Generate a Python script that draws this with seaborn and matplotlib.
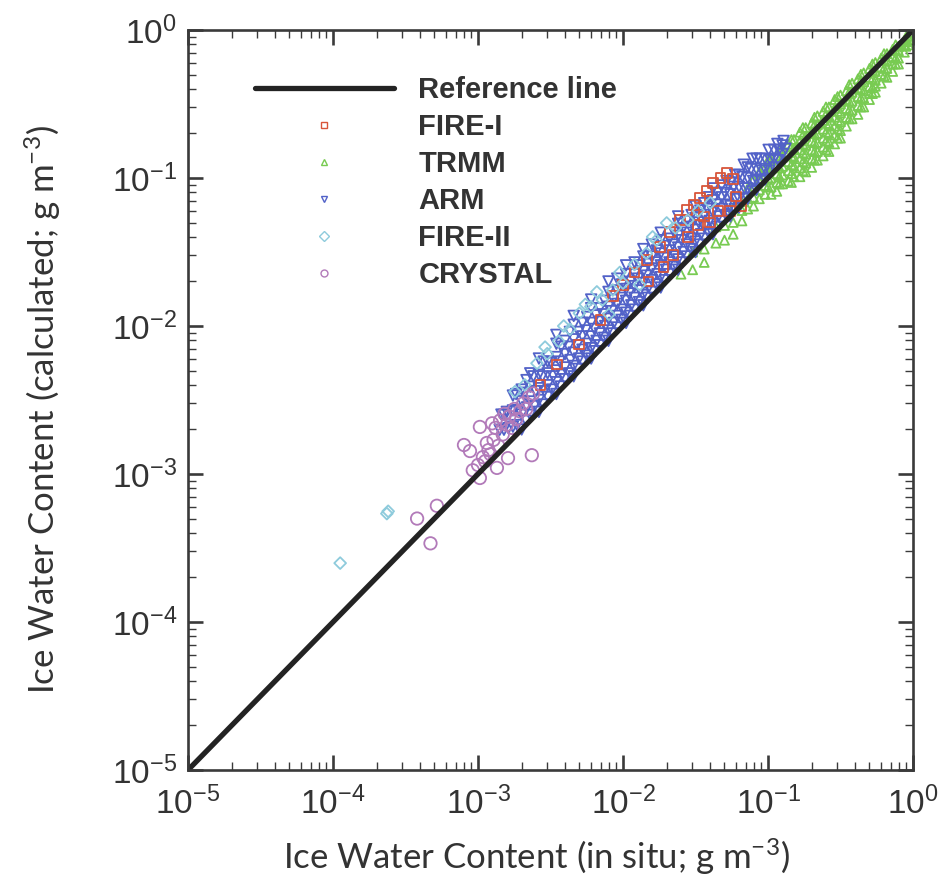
import numpy as np
import pandas as pd
import matplotlib
matplotlib.use("Agg")
import matplotlib.pyplot as plt
from matplotlib.lines import Line2D
from matplotlib.ticker import FixedLocator, NullLocator, LogFormatterSciNotation
import seaborn as sns

# ==========================================
# data (g m^-3)
# ==========================================
REF_LINE = [1e-5, 1e0]
DECADES = [1e-5, 1e-4, 1e-3, 1e-2, 1e-1, 1e0]
DECADE_SUBS = [2, 3, 4, 5, 6, 7, 8, 9]

FIRE1_X = [0.052, 0.047, 0.042, 0.038, 0.034, 0.031, 0.0276, 0.0247, 0.021, 0.018,
           0.0147, 0.012, 0.010, 0.0085, 0.057, 0.045, 0.040, 0.033, 0.028, 0.022,
           0.036, 0.019, 0.015, 0.060, 0.007, 0.005, 0.0035, 0.0027, 0.065, 0.055]
FIRE1_Y = [0.108, 0.100, 0.092, 0.082, 0.073, 0.066, 0.061, 0.052, 0.043, 0.034,
           0.028, 0.023, 0.019, 0.016, 0.098, 0.060, 0.050, 0.048, 0.040, 0.030,
           0.055, 0.025, 0.020, 0.075, 0.011, 0.0075, 0.0055, 0.004, 0.065, 0.060]

TRMM_X = [0.0251, 0.0302, 0.0302, 0.0363, 0.0363, 0.0437, 0.0437, 0.0501, 0.0501,
          0.0575, 0.0575, 0.0575, 0.0661, 0.0661, 0.0661, 0.0724, 0.0724, 0.0724,
          0.0794, 0.0794, 0.0794, 0.0794, 0.0871, 0.0871, 0.0871, 0.0871,
          0.0955, 0.0955, 0.0955, 0.0955, 0.105, 0.105, 0.105, 0.105, 0.105,
          0.115, 0.115, 0.115, 0.115, 0.115, 0.126, 0.126, 0.126, 0.126, 0.126,
          0.138, 0.138, 0.138, 0.138, 0.138, 0.151, 0.151, 0.151, 0.151, 0.151,
          0.166, 0.166, 0.166, 0.166, 0.166, 0.166, 0.182, 0.182, 0.182, 0.182, 0.182, 0.182,
          0.200, 0.200, 0.200, 0.200, 0.200, 0.200, 0.219, 0.219, 0.219, 0.219, 0.219, 0.219,
          0.240, 0.240, 0.240, 0.240, 0.240, 0.240, 0.263, 0.263, 0.263, 0.263, 0.263, 0.263,
          0.288, 0.288, 0.288, 0.288, 0.288, 0.288, 0.316, 0.316, 0.316, 0.316, 0.316, 0.316,
          0.347, 0.347, 0.347, 0.347, 0.347, 0.380, 0.380, 0.380, 0.380, 0.380,
          0.417, 0.417, 0.417, 0.417, 0.417, 0.457, 0.457, 0.457, 0.457, 0.457,
          0.501, 0.501, 0.501, 0.501, 0.501, 0.550, 0.550, 0.550, 0.550, 0.550,
          0.603, 0.603, 0.603, 0.603, 0.661, 0.661, 0.661, 0.661, 0.724, 0.724, 0.724, 0.724,
          0.794, 0.794, 0.794, 0.794, 0.871, 0.871, 0.871, 0.933, 0.933, 0.933,
          0.100, 0.100, 0.100, 0.100, 0.120, 0.120, 0.120, 0.120, 0.120,
          0.145, 0.145, 0.145, 0.145, 0.145, 0.145, 0.174, 0.174, 0.174, 0.174, 0.174, 0.174,
          0.209, 0.209, 0.209, 0.209, 0.209, 0.209, 0.251, 0.251, 0.251, 0.251, 0.251, 0.251,
          0.302, 0.302, 0.302, 0.302, 0.302, 0.302, 0.363, 0.363, 0.363, 0.363, 0.363,
          0.437, 0.437, 0.437, 0.437, 0.437, 0.525, 0.525, 0.525, 0.525, 0.525,
          0.631, 0.631, 0.631, 0.631, 0.759, 0.759, 0.759, 0.759, 0.891, 0.891, 0.891]
TRMM_Y = [0.0224, 0.0316, 0.0240, 0.0331, 0.0269, 0.0468, 0.0363, 0.0478, 0.0380,
          0.0631, 0.0501, 0.0417, 0.0692, 0.0603, 0.0513, 0.0851, 0.0724, 0.0617,
          0.0977, 0.0851, 0.0741, 0.0646, 0.110, 0.0955, 0.0832, 0.0724,
          0.118, 0.105, 0.0891, 0.0776, 0.132, 0.115, 0.100, 0.0871, 0.0776,
          0.141, 0.123, 0.107, 0.0933, 0.0813, 0.158, 0.138, 0.120, 0.105, 0.0912,
          0.170, 0.148, 0.129, 0.112, 0.0955, 0.182, 0.158, 0.138, 0.120, 0.102,
          0.204, 0.178, 0.155, 0.135, 0.117, 0.102, 0.219, 0.191, 0.166, 0.145, 0.126, 0.110,
          0.235, 0.205, 0.178, 0.155, 0.135, 0.118, 0.263, 0.229, 0.200, 0.174, 0.151, 0.132,
          0.282, 0.245, 0.214, 0.186, 0.162, 0.141, 0.302, 0.263, 0.229, 0.200, 0.174, 0.151,
          0.339, 0.295, 0.257, 0.224, 0.195, 0.170, 0.363, 0.316, 0.275, 0.240, 0.209, 0.186,
          0.389, 0.339, 0.295, 0.257, 0.224, 0.437, 0.380, 0.331, 0.288, 0.251,
          0.468, 0.407, 0.355, 0.309, 0.269, 0.513, 0.447, 0.389, 0.347, 0.302,
          0.550, 0.479, 0.417, 0.372, 0.339, 0.603, 0.525, 0.457, 0.417, 0.380,
          0.646, 0.563, 0.501, 0.437, 0.692, 0.617, 0.550, 0.479, 0.741, 0.661, 0.589, 0.525,
          0.776, 0.724, 0.646, 0.589, 0.851, 0.794, 0.708, 0.912, 0.871, 0.794,
          0.132, 0.115, 0.100, 0.0871, 0.155, 0.135, 0.117, 0.102, 0.0912,
          0.182, 0.162, 0.141, 0.123, 0.107, 0.0933, 0.219, 0.195, 0.170, 0.148, 0.129, 0.112,
          0.257, 0.229, 0.200, 0.174, 0.151, 0.132, 0.302, 0.269, 0.234, 0.204, 0.178, 0.155,
          0.355, 0.324, 0.282, 0.245, 0.214, 0.186, 0.427, 0.380, 0.331, 0.288, 0.251,
          0.502, 0.457, 0.398, 0.347, 0.302, 0.589, 0.537, 0.468, 0.407, 0.372,
          0.692, 0.631, 0.550, 0.490, 0.794, 0.724, 0.646, 0.589, 0.891, 0.832, 0.776]

ARM_X = [0.00141, 0.00145, 0.00162, 0.00158, 0.00186, 0.00190, 0.00183,
         0.00214, 0.00218, 0.00210, 0.00216, 0.00245, 0.00250, 0.00241,
         0.00282, 0.00287, 0.00278, 0.00284, 0.00324, 0.00330, 0.00319,
         0.00372, 0.00378, 0.00366, 0.00375, 0.00427, 0.00434, 0.00420, 0.00430,
         0.00490, 0.00498, 0.00482, 0.00494, 0.00562, 0.00572, 0.00553, 0.00566,
         0.00646, 0.00657, 0.00635, 0.00651, 0.00741, 0.00754, 0.00729, 0.00747,
         0.00851, 0.00866, 0.00837, 0.00857, 0.00977, 0.00994, 0.00961, 0.00984,
         0.0112, 0.0114, 0.0110, 0.0113, 0.0129, 0.0131, 0.0127, 0.0130,
         0.0148, 0.0150, 0.0145, 0.0149, 0.0170, 0.0173, 0.0167, 0.0171,
         0.0195, 0.0198, 0.0192, 0.0196, 0.0224, 0.0228, 0.0220, 0.0226,
         0.0257, 0.0261, 0.0253, 0.0259, 0.0295, 0.0300, 0.0290, 0.0297,
         0.0339, 0.0345, 0.0333, 0.0341, 0.0389, 0.0396, 0.0383, 0.0392,
         0.0447, 0.0455, 0.0440, 0.0450, 0.0513, 0.0522, 0.0505, 0.0517,
         0.0589, 0.0599, 0.0580, 0.0593, 0.0676, 0.0688, 0.0665, 0.0681,
         0.0776, 0.0790, 0.0764, 0.0782, 0.0891, 0.0907, 0.0877,
         0.102, 0.104, 0.101, 0.117, 0.119, 0.116, 0.132, 0.128,
         0.00151, 0.00151, 0.00174, 0.00174, 0.00174,
         0.00200, 0.00200, 0.00200, 0.00200, 0.00229, 0.00229, 0.00229, 0.00229,
         0.00263, 0.00263, 0.00263, 0.00263, 0.00302, 0.00302, 0.00302, 0.00302,
         0.00347, 0.00347, 0.00347, 0.00347, 0.00347, 0.00398, 0.00398, 0.00398, 0.00398,
         0.00457, 0.00457, 0.00457, 0.00457, 0.00457, 0.00525, 0.00525, 0.00525, 0.00525,
         0.00603, 0.00603, 0.00603, 0.00603, 0.00603, 0.00692, 0.00692, 0.00692, 0.00692,
         0.00794, 0.00794, 0.00794, 0.00794, 0.00794, 0.00912, 0.00912, 0.00912, 0.00912, 0.00912,
         0.0105, 0.0105, 0.0105, 0.0105, 0.0105, 0.0120, 0.0120, 0.0120, 0.0120, 0.0120,
         0.0138, 0.0138, 0.0138, 0.0138, 0.0138, 0.0158, 0.0158, 0.0158, 0.0158, 0.0158,
         0.0182, 0.0182, 0.0182, 0.0182, 0.0182, 0.0209, 0.0209, 0.0209, 0.0209,
         0.0240, 0.0240, 0.0240, 0.0240, 0.0240, 0.0275, 0.0275, 0.0275, 0.0275,
         0.0316, 0.0316, 0.0316, 0.0316, 0.0316, 0.0363, 0.0363, 0.0363, 0.0363,
         0.0417, 0.0417, 0.0417, 0.0417, 0.0417, 0.0479, 0.0479, 0.0479, 0.0479,
         0.0550, 0.0550, 0.0550, 0.0550, 0.0631, 0.0631, 0.0631, 0.0631,
         0.0724, 0.0724, 0.0724, 0.0724, 0.0832, 0.0832, 0.0832, 0.0832,
         0.0955, 0.0955, 0.0955, 0.110, 0.110, 0.110, 0.126, 0.126,
         0.00263, 0.00347, 0.00457, 0.00603, 0.00794, 0.0105, 0.0138, 0.0182, 0.0240]
ARM_Y = [0.00199, 0.00252, 0.00204, 0.00263, 0.00214, 0.00270, 0.00347,
         0.00229, 0.00282, 0.00354, 0.00431, 0.00288, 0.00363, 0.00457,
         0.00295, 0.00363, 0.00457, 0.00575, 0.00372, 0.00457, 0.00563,
         0.00390, 0.00468, 0.00575, 0.00724, 0.00479, 0.00589, 0.00724, 0.00912,
         0.00513, 0.00603, 0.00741, 0.00912, 0.00631, 0.00759, 0.00933, 0.0115,
         0.00676, 0.00794, 0.00955, 0.0118, 0.00832, 0.0100, 0.0120, 0.0148,
         0.00891, 0.0105, 0.0126, 0.0151, 0.0110, 0.0129, 0.0155, 0.0191,
         0.0117, 0.0138, 0.0166, 0.0199, 0.0145, 0.0174, 0.0209, 0.0257,
         0.0155, 0.0182, 0.0219, 0.0263, 0.0191, 0.0224, 0.0269, 0.0324,
         0.0204, 0.0240, 0.0288, 0.0347, 0.0251, 0.0295, 0.0355, 0.0427,
         0.0269, 0.0316, 0.0380, 0.0457, 0.0331, 0.0389, 0.0468, 0.0562,
         0.0355, 0.0417, 0.0501, 0.0603, 0.0427, 0.0513, 0.0617, 0.0741,
         0.0468, 0.0550, 0.0661, 0.0794, 0.0562, 0.0661, 0.0794, 0.0955,
         0.0617, 0.0724, 0.0871, 0.105, 0.0724, 0.0851, 0.102, 0.123,
         0.0813, 0.0955, 0.115, 0.135, 0.0955, 0.112, 0.135,
         0.112, 0.132, 0.155, 0.132, 0.155, 0.170, 0.158, 0.178,
         0.00199, 0.00251, 0.00209, 0.00269, 0.00339,
         0.00200, 0.00252, 0.00310, 0.00372, 0.00251, 0.00309, 0.00389, 0.00479,
         0.00263, 0.00316, 0.00380, 0.00468, 0.00331, 0.00398, 0.00479, 0.00575,
         0.00347, 0.00417, 0.00501, 0.00617, 0.00759, 0.00437, 0.00525, 0.00646, 0.00794,
         0.00457, 0.00537, 0.00661, 0.00813, 0.0102, 0.00575, 0.00692, 0.00851, 0.0105,
         0.00603, 0.00708, 0.00851, 0.0105, 0.0132, 0.00741, 0.00891, 0.0107, 0.0132,
         0.00794, 0.00933, 0.0112, 0.0135, 0.0170, 0.00977, 0.0117, 0.0141, 0.0174, 0.0209,
         0.0105, 0.0123, 0.0148, 0.0178, 0.0224, 0.0129, 0.0155, 0.0186, 0.0224, 0.0269,
         0.0138, 0.0162, 0.0195, 0.0234, 0.0295, 0.0170, 0.0204, 0.0245, 0.0295, 0.0355,
         0.0182, 0.0214, 0.0257, 0.0309, 0.0380, 0.0224, 0.0269, 0.0324, 0.0389,
         0.0240, 0.0282, 0.0339, 0.0407, 0.0490, 0.0295, 0.0355, 0.0427, 0.0513,
         0.0316, 0.0372, 0.0447, 0.0537, 0.0646, 0.0389, 0.0468, 0.0562, 0.0676,
         0.0417, 0.0490, 0.0589, 0.0708, 0.0851, 0.0513, 0.0617, 0.0741, 0.0891,
         0.0550, 0.0646, 0.0776, 0.0933, 0.0631, 0.0724, 0.0871, 0.105,
         0.0724, 0.0851, 0.100, 0.118, 0.0832, 0.0977, 0.115, 0.135,
         0.0977, 0.115, 0.135, 0.118, 0.135, 0.155, 0.145, 0.166,
         0.00603, 0.00871, 0.0117, 0.0151, 0.0200, 0.0257, 0.0331, 0.0427, 0.0550]

FIRE2_X = [1.12e-4, 2.35e-4, 2.4e-4, 2.55e-3, 3.0e-3, 3.6e-3, 4.3e-3, 5.0e-3, 6.0e-3,
           7.2e-3, 8.5e-3, 1.0e-2, 1.2e-2, 1.45e-2, 1.7e-2, 2.0e-2, 2.3e-2, 2.8e-2,
           1.8e-3, 2.1e-3, 3.3e-2, 4.0e-2, 8.0e-3, 1.3e-2,
           2.9e-3, 3.9e-3, 5.5e-3, 6.6e-3, 9.5e-3, 1.6e-2]
FIRE2_Y = [2.5e-4, 5.4e-4, 5.6e-4, 5.6e-3, 6.5e-3, 7.9e-3, 9.5e-3, 1.22e-2, 1.35e-2,
           1.5e-2, 1.75e-2, 1.95e-2, 2.6e-2, 3.1e-2, 3.8e-2, 4.97e-2, 4.6e-2, 5.2e-2,
           3.6e-3, 4.0e-3, 6.0e-2, 6.8e-2, 1.2e-2, 1.9e-2,
           7.2e-3, 1.0e-2, 1.4e-2, 1.7e-2, 2.3e-2, 4.0e-2]

CRYSTAL_X = [1.03e-3, 8.0e-4, 8.8e-4, 1.15e-3, 2.35e-3, 1.35e-3, 1.61e-3, 1.03e-3, 9.2e-4,
             5.2e-4, 3.8e-4, 4.7e-4,
             1.0e-3, 1.08e-3, 1.12e-3, 1.18e-3, 1.22e-3, 1.28e-3, 1.32e-3, 1.38e-3,
             1.42e-3, 1.48e-3, 1.52e-3, 1.58e-3, 1.64e-3, 1.72e-3, 1.78e-3, 1.84e-3,
             1.95e-3, 2.05e-3, 2.15e-3, 2.25e-3, 2.4e-3, 1.25e-3]
CRYSTAL_Y = [2.08e-3, 1.57e-3, 1.43e-3, 1.62e-3, 1.34e-3, 1.10e-3, 1.28e-3, 9.4e-4, 1.06e-3,
             6.1e-4, 5.0e-4, 3.4e-4,
             1.15e-3, 1.3e-3, 1.22e-3, 1.45e-3, 1.36e-3, 1.7e-3, 2.05e-3, 1.55e-3,
             2.3e-3, 1.85e-3, 2.55e-3, 2.15e-3, 2.45e-3, 2.05e-3, 2.75e-3, 2.35e-3,
             2.65e-3, 3.0e-3, 2.75e-3, 3.3e-3, 3.5e-3, 2.2e-3]

# legend order
NAMES = ['FIRE-I', 'TRMM', 'ARM', 'FIRE-II', 'CRYSTAL']
COLORS = ['#d8553a', '#78cb52', '#5262c8', '#8ecbdc', '#b27ab9']
MARKERS = ['s', '^', 'v', 'D', 'o']
SIZES = [50, 42, 58, 36, 80]
# drawing order (back to front)
DRAW_ORDER = ['TRMM', 'ARM', 'FIRE-I', 'FIRE-II', 'CRYSTAL']


def style_ticks(ax):
    # decades get long ticks + labels, the 2..9 subdivisions get short unlabelled ticks;
    # all of them go through the major tick machinery so they are always drawn
    sub_locs = np.outer(DECADES[:-1], DECADE_SUBS).ravel()
    all_locs = np.sort(np.concatenate([DECADES, sub_locs]))
    is_decade = np.isin(all_locs, DECADES)
    for axis in (ax.xaxis, ax.yaxis):
        axis.set_major_locator(FixedLocator(all_locs))
        axis.set_major_formatter(LogFormatterSciNotation(base=10, labelOnlyBase=True))
        axis.set_minor_locator(NullLocator())
    ax.tick_params(axis='x', which='major', direction='in', length=10.5, width=1.9,
                   bottom=True, top=True, labelsize=24, colors='#3a3a3a',
                   labelcolor='#333333', pad=12)
    ax.tick_params(axis='y', which='major', direction='in', length=10.5, width=1.9,
                   left=True, right=True, labelsize=24, colors='#3a3a3a',
                   labelcolor='#333333', pad=8)
    for axis in (ax.xaxis, ax.yaxis):
        for tick, major in zip(axis.get_major_ticks(len(all_locs)), is_decade):
            if major:
                continue
            for line in (tick.tick1line, tick.tick2line):
                line.set_markersize(5.5)
                line.set_markeredgewidth(1.0)
                line.set_color('#777777')


def main():
    sns.set_style("ticks")
    plt.rcParams['font.family'] = ['Liberation Sans', 'DejaVu Sans']
    plt.rcParams['mathtext.default'] = 'regular'

    frames = [
        pd.DataFrame({'x': FIRE1_X, 'y': FIRE1_Y, 'set': 'FIRE-I'}),
        pd.DataFrame({'x': TRMM_X, 'y': TRMM_Y, 'set': 'TRMM'}),
        pd.DataFrame({'x': ARM_X, 'y': ARM_Y, 'set': 'ARM'}),
        pd.DataFrame({'x': FIRE2_X, 'y': FIRE2_Y, 'set': 'FIRE-II'}),
        pd.DataFrame({'x': CRYSTAL_X, 'y': CRYSTAL_Y, 'set': 'CRYSTAL'}),
    ]
    df = pd.concat(frames, ignore_index=True)
    style = {n: (c, m, s) for n, c, m, s in zip(NAMES, COLORS, MARKERS, SIZES)}

    fig = plt.figure(figsize=(9.43, 8.8), dpi=100)
    ax = fig.add_axes([0.1994, 0.125, 0.7688, 0.8409])
    ax.set_xscale('log')
    ax.set_yscale('log')

    for name in DRAW_ORDER:
        c, m, s = style[name]
        sns.scatterplot(data=df[df['set'] == name], x='x', y='y', ax=ax,
                        marker=m, s=s, color=c, facecolor='none', edgecolor=c,
                        linewidth=1.3, legend=False)

    ax.plot(REF_LINE, REF_LINE, color='#232323', lw=3.8, solid_capstyle='butt')

    ax.set_xlabel('Ice Water Content (in situ; g m$^{-3}$)', fontsize=25,
                  family='Lato', color='#333333')
    ax.set_ylabel('Ice Water Content (calculated; g m$^{-3}$)', fontsize=25,
                  family='Lato', color='#333333')
    ax.xaxis.set_label_coords(0.481, -0.09)
    ax.yaxis.set_label_coords(-0.172, 0.487)

    handles = [Line2D([], [], color='#232323', lw=3.8, label='Reference line')]
    for n, c, m in zip(NAMES, COLORS, MARKERS):
        handles.append(Line2D([], [], ls='none', marker=m, ms=5, mfc='none',
                              mec=c, mew=1.0, label=n))
    ax.legend(handles=handles, loc='upper left', bbox_to_anchor=(0.0924, 0.938),
              frameon=False, borderpad=0, borderaxespad=0, handlelength=4.75,
              handletextpad=0.85, labelspacing=0.31, labelcolor='#333333',
              prop={'family': 'Liberation Sans', 'weight': 'bold', 'size': 21})

    for side in ax.spines.values():
        side.set_linewidth(1.9)
        side.set_color('#3a3a3a')

    ax.set_xlim(1e-5, 1)
    ax.set_ylim(1e-5, 1)
    style_ticks(ax)

    fig.savefig('out.png', dpi=100)


if __name__ == "__main__":
    main()
